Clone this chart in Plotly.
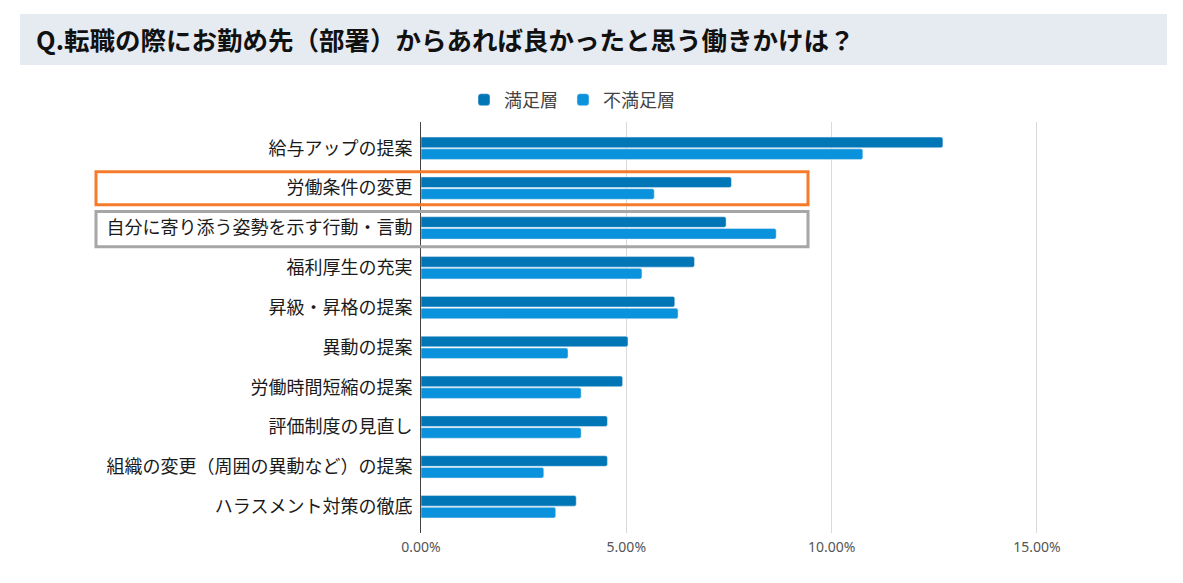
import plotly.graph_objects as go

categories = [
    "給与アップの提案",
    "労働条件の変更",
    "自分に寄り添う姿勢を示す行動・言動",
    "福利厚生の充実",
    "昇級・昇格の提案",
    "異動の提案",
    "労働時間短縮の提案",
    "評価制度の見直し",
    "組織の変更（周囲の異動など）の提案",
    "ハラスメント対策の徹底",
]
satisfied = [12.71, 7.56, 7.43, 6.66, 6.18, 5.04, 4.91, 4.54, 4.54, 3.78]
dissatisfied = [10.76, 5.68, 8.65, 5.38, 6.26, 3.58, 3.90, 3.90, 2.99, 3.28]
tick_vals = [0, 5, 10, 15]
tick_text = [f"{v:.2f}%" for v in tick_vals]

# page offset: the figure sits 8px in from the window corner
OFF = 8
W, H = 1183, 583
L, R, T, B = 421 - OFF, 105 + OFF, 122 - OFF, 50 + OFF
pw, ph = W - L - R, H - T - B


def px_x(p):
    return (p - OFF - L) / pw


def px_y(p):
    return (H - B - (p - OFF)) / ph


jp = "Noto Sans CJK JP"

fig = go.Figure()
fig.add_trace(go.Bar(y=categories, x=satisfied, orientation="h", name="満足層",
                     marker_color="#0176b7"))
fig.add_trace(go.Bar(y=categories, x=dissatisfied, orientation="h", name="不満足層",
                     marker_color="#0a92dc"))

# title band
fig.add_shape(type="rect", xref="paper", yref="paper",
              x0=px_x(20), x1=px_x(1167), y0=px_y(65), y1=px_y(14),
              fillcolor="#e6ebf2", line_width=0, layer="below")

# highlight boxes around two categories
fig.add_shape(type="rect", xref="paper", yref="y",
              x0=px_x(96), x1=px_x(808), y0=1 - 0.41, y1=1 + 0.42,
              line=dict(color="#f57b2a", width=3), fillcolor="rgba(0,0,0,0)")
fig.add_shape(type="rect", xref="paper", yref="y",
              x0=px_x(96), x1=px_x(808), y0=2 - 0.41, y1=2 + 0.47,
              line=dict(color="#a6a6a6", width=3), fillcolor="rgba(0,0,0,0)")

fig.update_layout(
    width=W, height=H,
    margin=dict(l=L, r=R, t=T, b=B),
    paper_bgcolor="white", plot_bgcolor="white",
    barmode="group", bargap=0.41, bargroupgap=0.1, barcornerradius=2,
    font=dict(family=jp, color="#222"),
    title=dict(text="<b>Q.転職の際にお勤め先（部署）からあれば良かったと思う働きかけは？</b>",
               xref="container", yref="container", x=(36 - OFF) / W,
               y=1 - (41 - OFF) / H, xanchor="left", yanchor="middle",
               font=dict(family=jp, size=25.5, color="#111")),
    legend=dict(orientation="h", x=px_x(572), y=px_y(100), xanchor="center",
                yanchor="middle", font=dict(family=jp, size=18, color="#444"),
                itemwidth=30, traceorder="normal"),
    xaxis=dict(range=[0, 16], tickvals=tick_vals, ticktext=tick_text,
               showgrid=True, gridcolor="#d9d9d9", gridwidth=1, zeroline=False,
               tickfont=dict(family="Noto Sans", size=14, color="#555"),
               ticklabelstandoff=4, fixedrange=True),
    yaxis=dict(autorange=False, range=[9.66, -0.66], showline=True,
               linecolor="#444", linewidth=1, showgrid=False,
               tickfont=dict(family=jp, size=18, color="#1a1a1a"),
               ticklabelstandoff=4, fixedrange=True),
)

fig.write_html("out.html")
